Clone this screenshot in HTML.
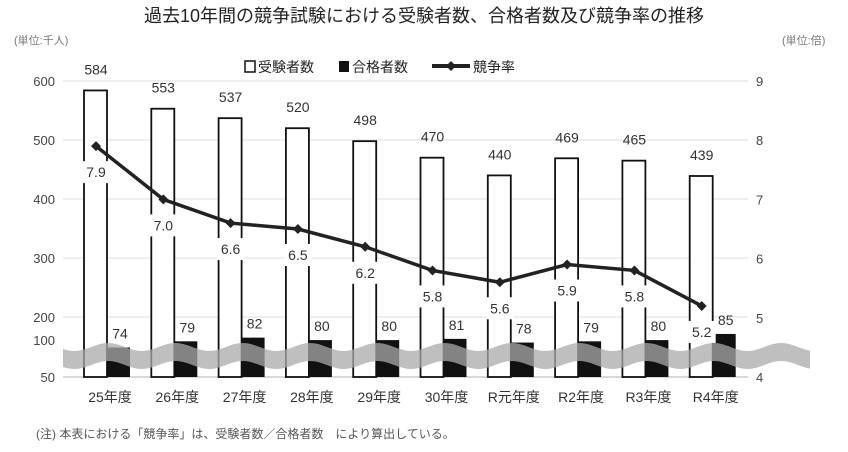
<!DOCTYPE html>
<html><head><meta charset="utf-8"><style>
body{margin:0;background:#fff;}
svg text{font-family:"Liberation Sans","Noto Sans CJK JP",sans-serif;}
</style></head><body>
<svg id="c" width="848" height="447" viewBox="0 0 848 447" xmlns="http://www.w3.org/2000/svg">
<text x="424" y="22" text-anchor="middle" font-size="18" fill="#222">過去10年間の競争試験における受験者数、合格者数及び競争率の推移</text>
<text x="14" y="44" font-size="11" fill="#777">(単位:千人)</text>
<text x="782" y="44" font-size="11" fill="#777">(単位:倍)</text>
<g font-size="14" fill="#222">
<rect x="245" y="61" width="10" height="11" fill="#fff" stroke="#111" stroke-width="1.5"/>
<text x="258" y="72">受験者数</text>
<rect x="339" y="61" width="10" height="11" fill="#111"/>
<text x="352" y="72">合格者数</text>
<line x1="432" y1="66" x2="470" y2="66" stroke="#222" stroke-width="4"/>
<path d="M451 61 L456 66 L451 71 L446 66Z" fill="#222"/>
<text x="473" y="72">競争率</text>
</g>
<g id="grid"></g><g id="bars"></g><g id="band"></g><g id="line"></g><g id="labels"></g>
<text x="36" y="438" font-size="12" fill="#555">(注) 本表における「競争率」は、受験者数／合格者数　により算出している。</text>
</svg>
<script>
const categories=["25年度","26年度","27年度","28年度","29年度","30年度","R元年度","R2年度","R3年度","R4年度"];
const applicants=[584,553,537,520,498,470,440,469,465,439];
const passers=[74,79,82,80,80,81,78,79,80,85];
const rates=[7.9,7.0,6.6,6.5,6.2,5.8,5.6,5.9,5.8,5.2];
const leftTicks=[600,500,400,300,200];
const rightTicks=[9,8,7,6,5,4];
const NS="http://www.w3.org/2000/svg";
function yUp(v){return 81+(600-v)*0.59;}
function yLow(v){return 377-(v-50)*1.23;}
function yR(v){return 81+(9-v)*59.2;}
function xC(i){return 107+i*67.3;}
function mk(t,a,p){const e=document.createElementNS(NS,t);for(const k in a)e.setAttribute(k,a[k]);if(p)document.getElementById(p).appendChild(e);return e;}
leftTicks.forEach(v=>{const y=yUp(v);
const l=mk('line',{x1:63,x2:748,y1:y,y2:y,stroke:'#ddd','stroke-width':1},'grid');


const t=mk('text',{x:55,y:y+5,'text-anchor':'end','font-size':13,fill:'#444'},'grid');t.textContent=v;

});
[[100,345],[50,382]].forEach(a=>{const t=mk('text',{x:55,y:a[1],'text-anchor':'end','font-size':13,fill:'#444'},'grid');t.textContent=a[0];

});
mk('line',{x1:63,x2:748,y1:377,y2:377,stroke:'#ccc','stroke-width':1.5},'grid');
rightTicks.forEach(v=>{const t=mk('text',{x:756,y:yR(v)+5,'font-size':13,fill:'#444'},'grid');t.textContent=v;

});
categories.forEach((c,i)=>{const x=xC(i);
const a=mk('rect',{x:x-23,y:yUp(applicants[i]),width:23,height:377-yUp(applicants[i]),fill:'#fff',stroke:'#111','stroke-width':1.8},'bars');


const b=mk('rect',{x:x,y:yLow(passers[i]),width:23,height:377-yLow(passers[i]),fill:'#111'},'bars');


const t1=mk('text',{x:x-11,y:yUp(applicants[i])-16,'text-anchor':'middle','font-size':14,fill:'#333'},'labels');t1.textContent=applicants[i];


const t2=mk('text',{x:x+13,y:yLow(passers[i])-9,'text-anchor':'middle','font-size':14,fill:'#333'},'labels');t2.textContent=passers[i];


const t3=mk('text',{x:x-11,y:yR(rates[i])+31,'text-anchor':'middle','font-size':14,fill:'#333'},'labels');t3.textContent=rates[i].toFixed(1);


const bg=mk('rect',{x:x-25,y:yR(rates[i])+15,width:28,height:22,fill:'#fff'});document.getElementById('labels').insertBefore(bg,t3);
const t4=mk('text',{x:x+3,y:402,'text-anchor':'middle','font-size':14,fill:'#333'},'labels');t4.textContent=c;

});
// wavy break band
const edgeTop=[],edgeBot=[];
for(let x=63;x<=810;x+=3){const s=4*Math.sin((x-63)/67.3*2*Math.PI+0.5);edgeTop.push(x+','+(347+s));edgeBot.unshift(x+','+(365+s));}
const band=mk('polygon',{points:edgeTop.concat(edgeBot).join(' '),fill:'#aaa','fill-opacity':0.75},'band');


const pts=rates.map((r,i)=>[xC(i)-11,yR(r)]);
const pl=mk('polyline',{points:pts.map(p=>p.join(',')).join(' '),fill:'none',stroke:'#222','stroke-width':3.5},'line');


pts.forEach(p=>{const m=mk('path',{d:`M${p[0]} ${p[1]-5}L${p[0]+5} ${p[1]}L${p[0]} ${p[1]+5}L${p[0]-5} ${p[1]}Z`,fill:'#222'},'line');

});
</script>
</body></html>
